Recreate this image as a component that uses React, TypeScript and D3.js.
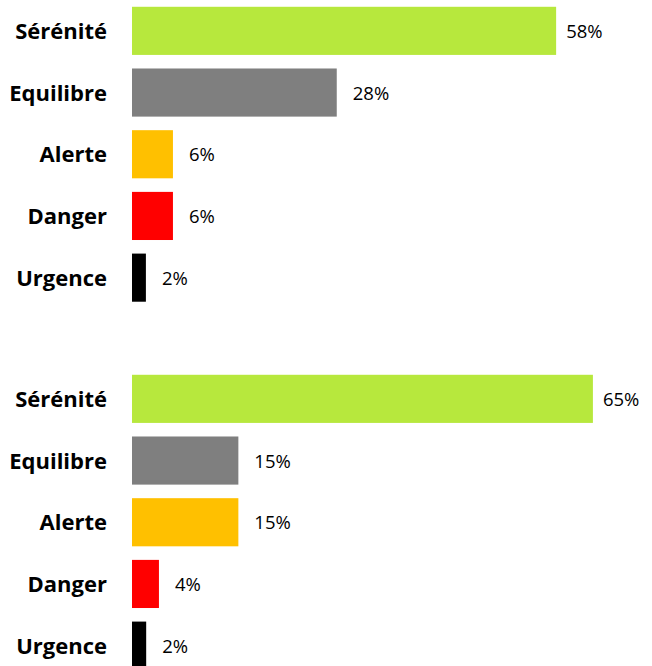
import React, { useRef, useEffect } from 'react';
import * as d3 from 'd3';

// categories and colours shared by both panels
const categories = ['Sérénité', 'Equilibre', 'Alerte', 'Danger', 'Urgence'];
const barColors = ['#B7E83D', '#7F7F7F', '#FFC000', '#FF0000', '#000000'];

// values (%)
const topValues = [58, 28, 5.6, 5.6, 1.9];
const bottomValues = [65, 15, 15, 3.8, 2];

const W = 652;
const H = 666;

const App = () => {
  const ref = useRef<SVGSVGElement>(null);

  useEffect(() => {
    const svg = d3.select(ref.current);
    svg.selectAll('*').remove();

    const left = 132;
    const plotW = 468;
    const fmt = (v: number) => `${Math.round(v)}%`;

    const panels = [
      { values: topValues, xMax: 64, y0: 0 },
      { values: bottomValues, xMax: 66, y0: 368 },
    ];

    panels.forEach((p) => {
      const x = d3.scaleLinear().domain([0, p.xMax]).range([0, plotW]);
      const y = d3.scaleBand<string>()
        .domain(categories)
        .range([p.y0, p.y0 + 308.5])
        .paddingInner(0.22)
        .paddingOuter(0.11);

      const g = svg.append('g').attr('transform', `translate(${left},0)`);
      const rows = categories.map((c, i) => ({ c, v: p.values[i], color: barColors[i] }));

      // bars
      g.selectAll('rect')
        .data(rows)
        .join('rect')
        .attr('x', 0)
        .attr('y', (d) => y(d.c)!)
        .attr('width', (d) => x(d.v))
        .attr('height', y.bandwidth())
        .attr('fill', (d) => d.color);

      // value labels
      g.selectAll('text.val')
        .data(rows)
        .join('text')
        .attr('class', 'val')
        .attr('x', (d, i) => x(d.v) + (i === 0 ? 10 : 16))
        .attr('y', (d) => y(d.c)! + y.bandwidth() / 2 + 7)
        .attr('font-family', '"Open Sans", sans-serif')
        .attr('font-size', 18.5)
        .attr('fill', '#000')
        .text((d) => fmt(d.v));

      // category labels
      svg.append('g')
        .selectAll('text')
        .data(rows)
        .join('text')
        .attr('x', 107)
        .attr('y', (d) => y(d.c)! + y.bandwidth() / 2 + 8)
        .attr('text-anchor', 'end')
        .attr('font-family', '"Open Sans", sans-serif')
        .attr('font-weight', 'bold')
        .attr('font-size', 22)
        .attr('fill', '#000')
        .text((d) => d.c);
    });
  }, []);

  return (
    <svg
      ref={ref}
      width={W}
      height={H}
      style={{ position: 'absolute', left: 0, top: 0, background: '#fff' }}
    />
  );
};

export default App;
